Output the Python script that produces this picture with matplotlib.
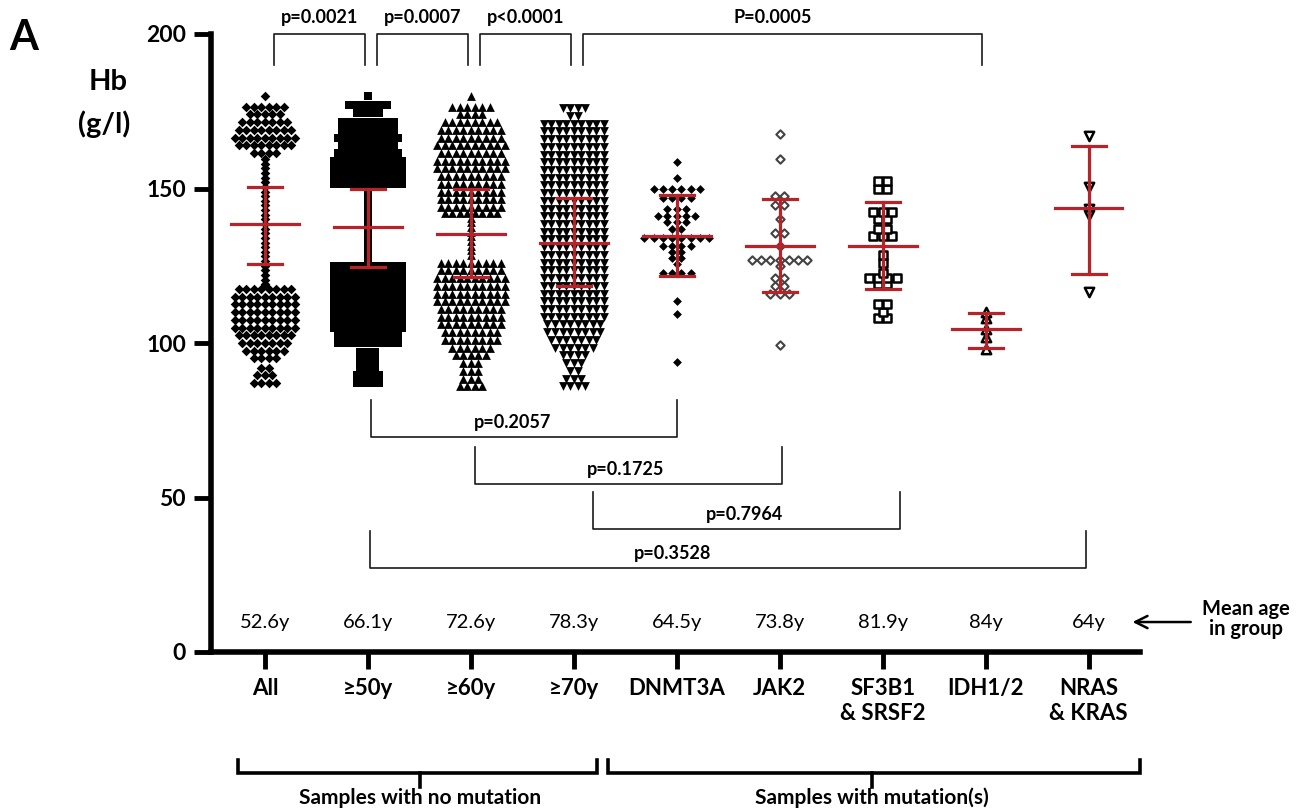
import numpy as np
import matplotlib
matplotlib.use("Agg")
import matplotlib.pyplot as plt

plt.rcParams['font.family'] = ['Lato', 'DejaVu Sans']

# ---------------- data ----------------
categories = ["All", "≥50y", "≥60y", "≥70y", "DNMT3A", "JAK2",
              "SF3B1\n& SRSF2", "IDH1/2", "NRAS\n& KRAS"]
mean_ages = ["52.6y", "66.1y", "72.6y", "78.3y", "64.5y", "73.8y", "81.9y", "84y", "64y"]

group_mean = [138.5, 137.6, 135.4, 132.5, 134.6, 131.5, 131.5, 104.5, 143.6]
group_sd_hi = [150.5, 149.8, 149.8, 146.8, 147.9, 146.6, 145.7, 109.6, 163.9]
group_sd_lo = [125.6, 124.6, 121.5, 118.4, 121.8, 116.4, 117.5, 98.5, 122.4]

# large groups: Hb row levels and number of samples in each row
all_hb = [180, 176.5, 174, 171.5, 169, 166.5, 164, 161.5,
          159.5, 158, 156.5, 155, 153.5, 152, 150.5, 149, 147.5, 146, 144.5, 143,
          141.5, 140, 138.5, 137, 135.5, 134, 132.5, 131, 129.5, 128, 126.5, 125,
          123.5, 122, 120.5, 119,
          117.5, 115, 112.5, 110, 107.5, 105, 102.5, 100, 97.5, 95, 92, 89.5, 87]
all_n = [1, 6, 5, 7, 8, 9, 8, 4,
         1, 1, 1, 1, 1, 1, 1, 1, 1, 1, 1, 1,
         1, 1, 1, 1, 1, 1, 1, 1, 1, 1, 1, 1,
         1, 1, 1, 1,
         8, 9, 9, 9, 9, 9, 8, 7, 6, 4, 2, 3, 4]

ge50_hb = [180, 177, 174.5, 171.5, 169, 166.5, 164, 161.5, 159, 156.5, 154, 151.5,
           149.5, 148, 146.5, 145, 143.5, 142, 140.5, 139, 137.5, 136, 134.5, 133,
           131.5, 130, 128.5, 127,
           125, 122.5, 120, 117.5, 115, 112.5, 110, 107.5, 105, 102.5, 100,
           97, 94.5, 92, 89.5, 87]
ge50_n = [1, 6, 4, 8, 8, 9, 8, 9, 10, 10, 10, 10,
          1, 1, 1, 1, 1, 1, 1, 1, 1, 1, 1, 1,
          1, 1, 1, 1,
          10, 10, 10, 10, 10, 10, 10, 10, 10, 9, 9,
          3, 3, 3, 4, 4]

ge60_hb = [180, 176.5, 174, 171.5, 169, 166.5, 164, 161.5, 159, 156.5, 154, 151.5,
           149, 146.5, 144, 142,
           140.5, 139, 137.5, 136, 134.5, 133, 131.5, 130, 128.5,
           126, 123.5, 121, 118.5, 116, 113.5, 111, 108.5, 106, 103.5, 101,
           98.5, 96, 93.5, 91, 88.5, 86]
ge60_n = [1, 6, 4, 8, 9, 9, 10, 9, 10, 10, 9, 9,
          9, 9, 9, 8,
          1, 1, 1, 1, 1, 1, 1, 1, 1,
          9, 9, 10, 10, 10, 10, 9, 9, 9, 8, 8,
          6, 5, 3, 3, 3, 4]

ge70_hb = [176, 173.5, 171, 168.5, 166, 163.5, 161, 158.5, 156, 153.5, 151, 148.5,
           146, 143.5, 141, 138.5, 136, 133.5, 131, 128.5, 126, 123.5, 121, 118.5,
           116, 113.5, 111, 108.5, 106, 103.5, 101, 98.5, 96, 93.5, 91, 88.5, 86]
ge70_n = [4, 2, 9, 9, 9, 9, 9, 9, 9, 9, 9, 9,
          9, 9, 9, 9, 9, 9, 9, 9, 9, 9, 9, 9,
          9, 9, 9, 9, 8, 8, 7, 6, 4, 3, 2, 3, 4]

# small groups: individual Hb values
dnmt3a_hb = [158.5, 153.5, 150, 150, 150, 150, 150, 150, 147, 147, 147, 147,
             143.5, 143.5, 143.5, 141, 141, 141, 141, 141, 139, 139, 139, 137, 137,
             134, 134, 134, 134, 134, 134, 134, 134, 131.5, 131.5, 131.5, 131.5,
             129.5, 129.5, 127.5, 127.5, 125.5, 122.5, 122.5, 122.5, 122.5,
             113.5, 109.5, 94]
jak2_hb = [167.5, 159.5, 147.5, 147.5, 144.5, 144.5, 140, 135.5, 135.5, 131.5,
           127, 127, 127, 127, 127, 127, 127, 125, 121, 121, 118.5, 118.5,
           116, 116, 116, 99.5]
sf3b1_hb = [152.5, 152.5, 150, 150, 142.5, 142.5, 142.5, 140, 140, 137, 137,
            134.5, 134.5, 134.5, 128.5, 126, 122.5, 121, 121, 121, 121, 119, 119,
            112.5, 112.5, 110, 108, 108]
idh_hb = [110, 108, 104.5, 102, 98]
nras_hb = [167, 150.5, 143.5, 141.5, 116.5]

top_pairs = [(0, 1), (1, 2), (2, 3), (3, 7)]
top_p = ["p=0.0021", "p=0.0007", "p<0.0001", "P=0.0005"]
low_pairs = [(1, 4), (2, 5), (3, 6), (1, 8)]
low_p = ["p=0.2057", "p=0.1725", "p=0.7964", "p=0.3528"]

# ---------------- figure ----------------
W, H = 1306, 810
fig = plt.figure(figsize=(W / 100, H / 100), dpi=100)
ax = fig.add_axes([211 / W, 1 - 652 / H, (1140 - 211) / W, (652 - 34) / H])
ax.set_xlim(-0.524, 8.5)
ax.set_ylim(0, 200)
for s in ['top', 'right']:
    ax.spines[s].set_visible(False)
for s in ['left', 'bottom']:
    ax.spines[s].set_linewidth(4)
ax.tick_params(axis='both', width=3.5, length=12, direction='out', color='black')
ax.set_yticks([0, 50, 100, 150, 200])
ax.set_yticklabels(["0", "50", "100", "150", "200"], fontsize=16.5, fontweight='bold')
ax.tick_params(axis='y', pad=6)
ax.set_xticks(range(len(categories)))
ax.set_xticklabels(categories, fontsize=16, fontweight='bold', linespacing=1.2)
ax.tick_params(axis='x', pad=7)

RED = '#B8232A'
dx_big = 0.073
dx_small = 0.09


def rows_to_points(xc, hbs, counts, dx):
    xs, ys = [], []
    for v, n in zip(hbs, counts):
        offs = (np.arange(n) - (n - 1) / 2.0) * dx
        xs.extend(xc + offs)
        ys.extend([v] * n)
    return np.array(xs), np.array(ys)


def values_to_points(xc, vals, dx):
    u, c = np.unique(np.array(vals), return_counts=True)
    return rows_to_points(xc, u, c, dx)


big = [(all_hb, all_n, 'D', 24), (ge50_hb, ge50_n, 's', 28),
       (ge60_hb, ge60_n, '^', 40), (ge70_hb, ge70_n, 'v', 40)]
for i, (hb, n, mk, sz) in enumerate(big):
    xs, ys = rows_to_points(i, hb, n, dx_big)
    ax.scatter(xs, ys, marker=mk, s=sz, c='black', linewidths=0, zorder=2)

xs, ys = values_to_points(4, dnmt3a_hb, dx_small)
ax.scatter(xs, ys, marker='D', s=20, c='black', linewidths=0, zorder=2)
xs, ys = values_to_points(5, jak2_hb, dx_small)
ax.scatter(xs, ys, marker='D', s=18, facecolors='white', edgecolors='#444444',
           linewidths=1.5, zorder=2)
xs, ys = values_to_points(6, sf3b1_hb, dx_small)
ax.scatter(xs, ys, marker='s', s=34, facecolors='white', edgecolors='black',
           linewidths=1.8, zorder=2)
xs, ys = values_to_points(7, idh_hb, dx_small)
ax.scatter(xs, ys, marker='^', s=45, facecolors='white', edgecolors='black',
           linewidths=1.8, zorder=2)
xs, ys = values_to_points(8, nras_hb, dx_small)
ax.scatter(xs, ys, marker='v', s=45, facecolors='white', edgecolors='black',
           linewidths=1.8, zorder=2)

# mean and SD bars
for i in range(len(categories)):
    ax.plot([i - 0.33, i + 0.33], [group_mean[i]] * 2, color=RED, lw=2.3, zorder=4)
    ax.plot([i, i], [group_sd_lo[i], group_sd_hi[i]], color=RED, lw=2.3, zorder=4)
    for yv in (group_sd_lo[i], group_sd_hi[i]):
        ax.plot([i - 0.165, i + 0.165], [yv, yv], color=RED, lw=2.3, zorder=4)

# top brackets
BC = '#1a1a1a'
for (a, b), lab in zip(top_pairs, top_p):
    x0, x1 = a + 0.09, b - 0.03
    ax.plot([x0, x0, x1, x1], [190, 200, 200, 190], color=BC, lw=1.2, clip_on=False)
    xm = (x0 + x1) / 2 if b - a == 1 else (x0 + x1) / 2 - 0.1
    ax.text(xm, 205.5, lab, ha='center', va='center', fontsize=13,
            fontweight='bold', clip_on=False)

# lower brackets
low_left = [1.03, 2.04, 3.19, 1.02]
low_right = [4.0, 5.02, 6.17, 7.98]
low_y = [69.7, 54.4, 39.9, 27.3]
low_tx = [2.41, 3.50, 4.66, 3.96]
for k, lab in enumerate(low_p):
    x0, x1, yb = low_left[k], low_right[k], low_y[k]
    ax.plot([x0, x0, x1, x1], [yb + 12, yb, yb, yb + 12], color=BC, lw=1.2)
    ax.text(low_tx[k], yb + 4.6, lab, ha='center', va='center', fontsize=13,
            fontweight='bold')

# mean age row
for i, t in enumerate(mean_ages):
    ax.text(i, 9.7, t, ha='center', va='center', fontsize=14.5)
ax.annotate('', xy=(8.40, 9.7), xytext=(9.02, 9.7),
            arrowprops=dict(arrowstyle='->', lw=1.8, color='black', mutation_scale=22),
            annotation_clip=False)
ax.text(9.53, 10.6, "Mean age\nin group", ha='center', va='center', fontsize=14.5,
        fontweight='bold', linespacing=1.0, clip_on=False)

# bottom group brackets
for x0, x1, xc, lab in [(-0.262, 3.23, 1.505, "Samples with no mutation"),
                        (3.33, 8.5, 5.9, "Samples with mutation(s)")]:
    ax.plot([x0, x0, x1, x1], [-35, -39.2, -39.2, -35], color='black', lw=2.6,
            clip_on=False, solid_joinstyle='miter')
    ax.plot([xc, xc], [-39.2, -43.7], color='black', lw=2.6, clip_on=False)
    ax.text(xc, -47.3, lab, ha='center', va='center', fontsize=15, fontweight='bold',
            clip_on=False)

# figure texts
fig.text(24 / W, 1 - 38 / H, "A", ha='center', va='center', fontsize=30, fontweight='bold')
fig.text(108 / W, 1 - 82 / H, "Hb", ha='center', va='center', fontsize=21, fontweight='bold')
fig.text(104 / W, 1 - 124 / H, "(g/l)", ha='center', va='center', fontsize=21, fontweight='bold')

fig.savefig("out.png", dpi=100)
